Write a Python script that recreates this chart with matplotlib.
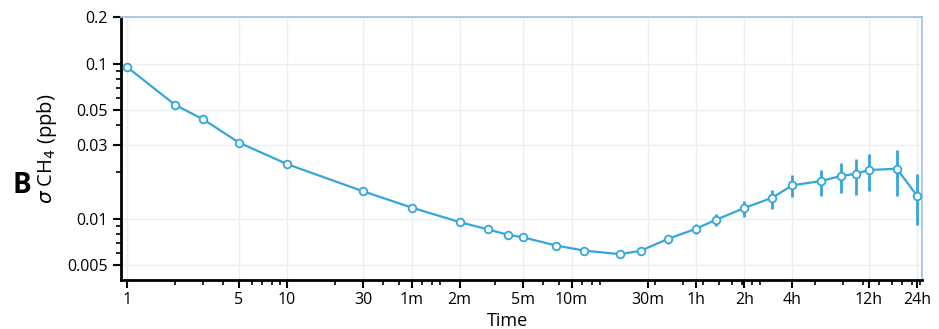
import matplotlib
matplotlib.use("Agg")
import matplotlib.pyplot as plt
from matplotlib.ticker import FixedLocator, FixedFormatter, LogLocator, NullFormatter
import numpy as np

plt.rcParams['font.family'] = ['Open Sans', 'DejaVu Sans']

# averaging time (s)
tau = [1, 2, 3, 5, 10, 30, 60, 120, 180, 240, 300, 480, 720, 1200, 1620,
       2400, 3600, 4800, 7200, 10800, 14400, 21600, 28800, 36000, 43200, 64800, 86400]
sigma = [0.0952, 0.0542, 0.0437, 0.0310, 0.0225, 0.0150, 0.0118, 0.0095, 0.00853,
         0.00787, 0.00757, 0.00671, 0.00622, 0.0059, 0.0062,
         0.0074, 0.00861, 0.00985, 0.0117, 0.01367, 0.01644, 0.01746, 0.01882,
         0.0195, 0.0206, 0.0210, 0.0141]
err_lo = [0.0952, 0.0542, 0.0437, 0.0310, 0.0225, 0.0150, 0.0118, 0.0095, 0.00853,
          0.00787, 0.00757, 0.00671, 0.00622, 0.0059, 0.0062,
          0.00686, 0.00796, 0.00891, 0.0102, 0.01161, 0.01375, 0.01396, 0.01459,
          0.01432, 0.01503, 0.0141, 0.0091]
err_hi = [0.0952, 0.0542, 0.0437, 0.0310, 0.0225, 0.0150, 0.0118, 0.0095, 0.00853,
          0.00787, 0.00757, 0.00671, 0.00622, 0.0059, 0.0062,
          0.00776, 0.00925, 0.01076, 0.01294, 0.01542, 0.0191, 0.0207, 0.02286,
          0.02415, 0.02616, 0.0278, 0.0193]

xtick_vals = [1, 5, 10, 30, 60, 120, 300, 600, 1800, 3600, 7200, 14400, 43200, 86400]
xtick_labels = ['1', '5', '10', '30', '1m', '2m', '5m', '10m', '30m', '1h', '2h', '4h', '12h', '24h']
ytick_vals = [0.005, 0.01, 0.03, 0.05, 0.1, 0.2]
ytick_labels = ['0.005', '0.01', '0.03', '0.05', '0.1', '0.2']

blue = '#35a6dc'

fig = plt.figure(figsize=(9.39, 3.29), dpi=100)
ax = fig.add_axes([0.1289, 0.149, 0.853, 0.799])
ax.set_xscale('log')
ax.set_yscale('log')

s = np.array(sigma)
yerr = np.vstack([s - np.array(err_lo), np.array(err_hi) - s])
ax.errorbar(tau, sigma, yerr=yerr, color=blue, lw=1.6, elinewidth=2.0, capsize=0,
            marker='o', ms=5.5, mfc='white', mec=blue, mew=1.3, zorder=3)

ax.set_xlim(0.917, 93000)
ax.set_ylim(0.00402, 0.2)

ax.xaxis.set_major_locator(FixedLocator(xtick_vals))
ax.xaxis.set_major_formatter(FixedFormatter(xtick_labels))
ax.xaxis.set_minor_locator(LogLocator(base=10, subs=np.arange(2, 10)))
ax.xaxis.set_minor_formatter(NullFormatter())
ax.yaxis.set_major_locator(FixedLocator(ytick_vals))
ax.yaxis.set_major_formatter(FixedFormatter(ytick_labels))
ax.yaxis.set_minor_locator(LogLocator(base=10, subs=np.arange(2, 10)))
ax.yaxis.set_minor_formatter(NullFormatter())

ax.tick_params(axis='both', which='major', length=6, width=1.5, labelsize=11.5, colors='black')
ax.tick_params(axis='both', which='minor', length=3.5, width=1.2)
ax.tick_params(axis='x', pad=3)

ax.grid(True, which='major', color='#eaeff5', lw=1.0, zorder=0)

for sp in ['left', 'bottom']:
    ax.spines[sp].set_color('black')
    ax.spines[sp].set_linewidth(2.0)
for sp in ['top', 'right']:
    ax.spines[sp].set_color('#a8c4e2')
    ax.spines[sp].set_linewidth(1.3)

ax.set_xlabel('Time', fontsize=13)
ax.xaxis.set_label_coords(0.483, -0.122)
ax.set_ylabel(r'$\sigma$ CH$_4$ (ppb)', fontsize=14.5)
ax.yaxis.set_label_coords(-0.077, 0.5)
fig.text(22 / 939, 1 - 185 / 329, 'B', fontsize=20, fontweight='bold', ha='center', va='center')

fig.savefig('out.png', dpi=100)
